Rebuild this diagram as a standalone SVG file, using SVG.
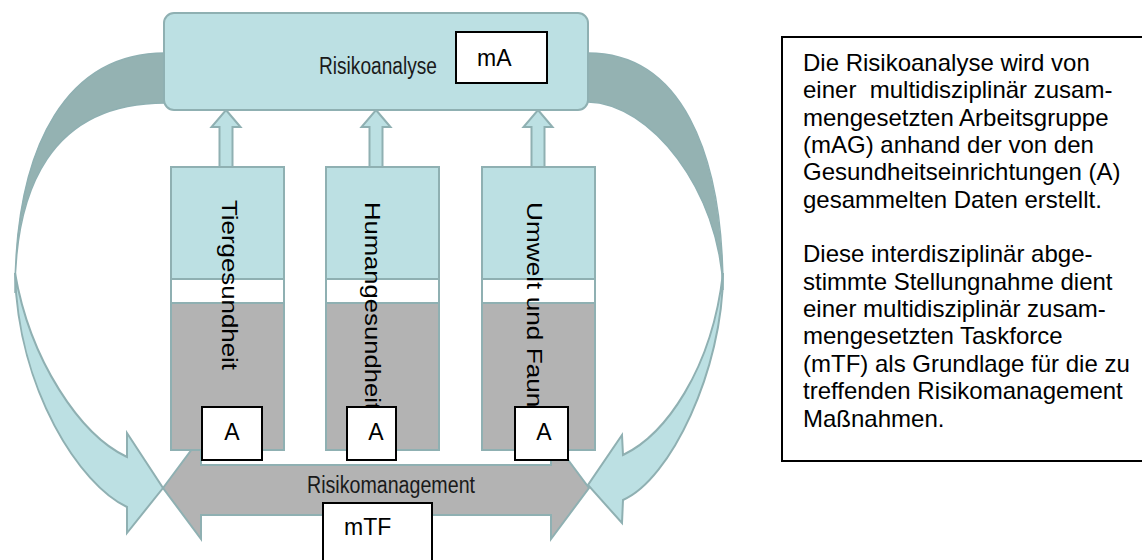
<svg xmlns="http://www.w3.org/2000/svg" width="1142" height="560" viewBox="0 0 1142 560">
<style>
.lb{fill:#bce0e3;stroke:#8fb0b2;stroke-width:2}
.dk{fill:#94b2b2;stroke:#8fb0b2;stroke-width:1.5}
.gr{fill:#b3b3b3;stroke:#8fb0b2;stroke-width:2}
.wh{fill:#ffffff;stroke:#8fb0b2;stroke-width:2}
.bx{fill:#ffffff;stroke:#000;stroke-width:2}
.t{font-family:"Liberation Sans",Arial,sans-serif;fill:#000}
.lbl{font-size:23px;fill:#1a1a1a}
.big{font-size:23px}
.note{font-size:24px}
</style>
<rect width="1142" height="560" fill="#fff"/>
<g id="connectors">
  <path class="dk" d="M165,53 C70,53 15,140 15,293 C15,190 50,103 165,103 Z"/>
  <path class="lb" stroke-width="1.5" d="M15,273 C18,390 80,485 127,507 L127,533 L163,488 L127,433 L127,457 C80,435 30,360 15,273 Z"/>
  <path class="dk" d="M588,53 C680,53 723,150 723,290 C720,190 650,103 588,102 Z"/>
  <path class="lb" stroke-width="1.5" d="M723,273 C723,370 670,480 623,500 L622,523 L588,485 L622,435 L623,455 C665,435 712,370 723,273 Z"/>
  <path class="lb" d="M226,110 L240.5,127 L232.5,127 L232.5,168 L219.5,168 L219.5,127 L211.5,127 Z"/>
  <path class="lb" d="M376,110 L390.5,127 L382.5,127 L382.5,168 L369.5,168 L369.5,127 L361.5,127 Z"/>
  <path class="lb" d="M538,110 L552.5,127 L544.5,127 L544.5,168 L531.5,168 L531.5,127 L523.5,127 Z"/>
</g>
<g id="risikoanalyse">
  <rect class="lb" x="164" y="13" width="424" height="97" rx="10"/>
  <text class="t lbl" x="319" y="74" textLength="118" lengthAdjust="spacingAndGlyphs">Risikoanalyse</text>
</g>
<g id="mA">
  <rect class="bx" x="456" y="32" width="91" height="51"/>
  <text class="t big" x="477" y="66">mA</text>
</g>
<g id="risikomanagement">
  <path class="gr" d="M163,488 L201,437 L201,465 L551,465 L551,437 L589,488 L551,539 L551,515 L201,515 L201,539 Z"/>
  <text class="t lbl" x="307" y="493" textLength="168" lengthAdjust="spacingAndGlyphs">Risikomanagement</text>
</g>
<g id="tiergesundheit">
  <rect class="lb" x="171" y="167" width="113" height="112"/>
  <rect class="wh" x="171" y="279" width="113" height="24"/>
  <rect class="gr" x="171" y="303" width="113" height="147"/>
  <text class="t" font-size="22" transform="translate(222,200) rotate(90)" textLength="170" lengthAdjust="spacingAndGlyphs">Tiergesundheit</text>
</g>
<g id="humangesundheit">
  <rect class="lb" x="326" y="167" width="113" height="112"/>
  <rect class="wh" x="326" y="279" width="113" height="24"/>
  <rect class="gr" x="326" y="303" width="113" height="147"/>
  <text class="t" font-size="22" transform="translate(365,202) rotate(90)" textLength="208" lengthAdjust="spacingAndGlyphs">Humangesundheit</text>
</g>
<g id="umwelt">
  <rect class="lb" x="482" y="167" width="113" height="112"/>
  <rect class="wh" x="482" y="279" width="113" height="24"/>
  <rect class="gr" x="482" y="303" width="113" height="147"/>
  <text class="t" font-size="22" transform="translate(527,202) rotate(90)" textLength="220" lengthAdjust="spacingAndGlyphs">Umwelt und Fauna</text>
</g>
<g id="A1">
  <rect class="bx" x="202" y="407" width="60" height="53"/>
  <text class="t big" x="232" y="440" text-anchor="middle">A</text>
</g>
<g id="A2">
  <rect class="bx" x="347" y="407" width="49" height="53"/>
  <text class="t big" x="376" y="440" text-anchor="middle">A</text>
</g>
<g id="A3">
  <rect class="bx" x="515" y="407" width="53" height="53"/>
  <text class="t big" x="544" y="440" text-anchor="middle">A</text>
</g>
<g id="mTF">
  <rect class="bx" x="323" y="503" width="109" height="60"/>
  <text class="t big" x="344" y="535">mTF</text>
</g>
<g id="note">
  <rect class="bx" x="782" y="37" width="380" height="424"/>
  <text class="t note" x="803" style="white-space:pre">
    <tspan x="803" y="71">Die Risikoanalyse wird von</tspan>
    <tspan x="803" y="98.3">einer  multidisziplinär zusam-</tspan>
    <tspan x="803" y="125.7">mengesetzten Arbeitsgruppe</tspan>
    <tspan x="803" y="153">(mAG) anhand der von den</tspan>
    <tspan x="803" y="180.4">Gesundheitseinrichtungen (A)</tspan>
    <tspan x="803" y="207.7">gesammelten Daten erstellt.</tspan>
    <tspan x="803" y="262.4">Diese interdisziplinär abge-</tspan>
    <tspan x="803" y="289.7">stimmte Stellungnahme dient</tspan>
    <tspan x="803" y="317.1">einer multidisziplinär zusam-</tspan>
    <tspan x="803" y="344.4">mengesetzten Taskforce</tspan>
    <tspan x="803" y="371.8">(mTF) als Grundlage für die zu</tspan>
    <tspan x="803" y="399.1">treffenden Risikomanagement</tspan>
    <tspan x="803" y="426.5">Maßnahmen.</tspan>
  </text>
</g>
</svg>
